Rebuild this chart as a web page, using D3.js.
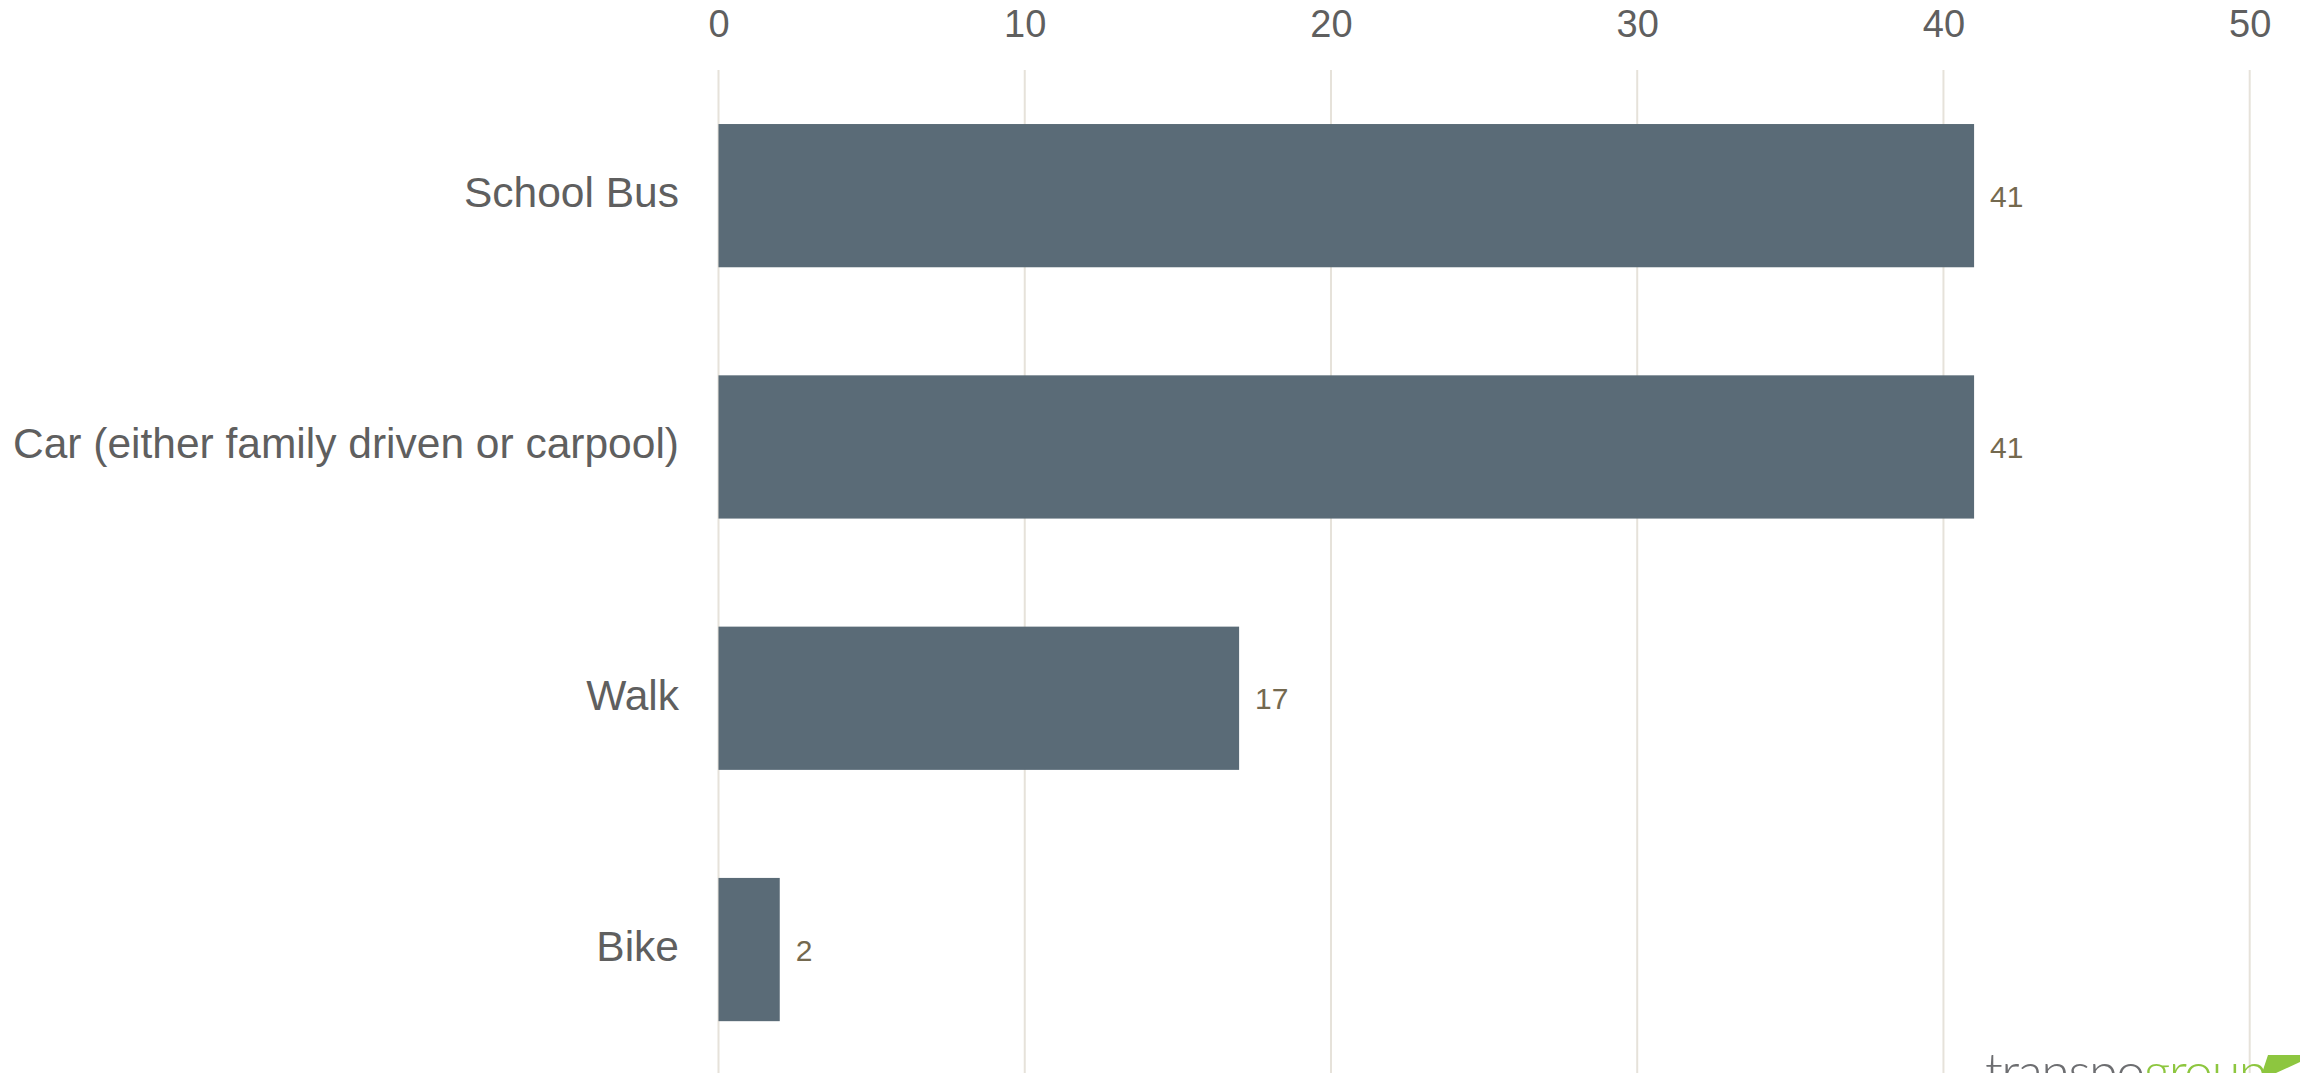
<!DOCTYPE html>
<html>
<head>
<meta charset="utf-8">
<script src="https://cdn.jsdelivr.net/npm/d3@7/dist/d3.min.js"></script>
<style>
  html, body { margin: 0; padding: 0; background: #ffffff; overflow: hidden; }
  svg { display: block; }
</style>
</head>
<body>
<svg id="chart" width="2300" height="1073"></svg>
<script>
const categories = ["School Bus", "Car (either family driven or carpool)", "Walk", "Bike"];
const values = [41, 41, 17, 2];
const tickValues = [0, 10, 20, 30, 40, 50];

const W = 2300, H = 1073;
const svg = d3.select("#chart");

const x = d3.scaleLinear().domain([0, 50]).range([718.5, 2249.7]);
const y = d3.scaleBand().domain(categories).range([70, 1075.2]).paddingInner(0.43).paddingOuter(0.215);

// gridlines
svg.append("g").selectAll("line").data(tickValues).join("line")
  .attr("x1", d => x(d)).attr("x2", d => x(d))
  .attr("y1", 70).attr("y2", H)
  .attr("stroke", "#e6e2da").attr("stroke-width", 2);

// top axis labels
const xAxis = d3.axisTop(x).tickValues(tickValues).tickSize(0).tickPadding(0).tickFormat(d3.format("d"));
const gx = svg.append("g").attr("transform", "translate(0,37)").call(xAxis);
gx.select(".domain").remove();
gx.selectAll("text")
  .attr("font-family", "'Liberation Sans', Arial, sans-serif")
  .attr("font-size", 38)
  .attr("fill", "#5f5f5f")
  .attr("dy", 0);

// category axis labels
const yAxis = d3.axisLeft(y).tickSize(0).tickPadding(0);
const gy = svg.append("g").attr("transform", "translate(679,0)").call(yAxis);
gy.select(".domain").remove();
gy.selectAll("text")
  .attr("font-family", "'Liberation Sans', Arial, sans-serif")
  .attr("font-size", 42.5)
  .attr("fill", "#5f5f5f")
  .attr("dy", "0.27em");

// bars
svg.append("g").selectAll("rect").data(values).join("rect")
  .attr("x", x(0))
  .attr("y", (d, i) => y(categories[i]))
  .attr("width", d => x(d) - x(0))
  .attr("height", y.bandwidth())
  .attr("fill", "#5a6b77");

// value labels
svg.append("g").selectAll("text").data(values).join("text")
  .attr("x", d => x(d) + 16)
  .attr("y", (d, i) => y(categories[i]) + y.bandwidth() / 2 + 11)
  .attr("font-family", "'Liberation Sans', Arial, sans-serif")
  .attr("font-size", 30)
  .attr("fill", "#74694f")
  .text(d => d);

// logo (partially cut off at bottom, as in the reference)
const logo = svg.append("text")
  .attr("x", 1985).attr("y", 1090)
  .attr("font-family", "Lato, sans-serif")
  .attr("font-weight", 300)
  .attr("font-size", 52)
  .attr("letter-spacing", "-1.5");
logo.append("tspan").attr("fill", "#6d6e71").text("transpo");
logo.append("tspan").attr("fill", "#8dc63f").text("group");
svg.append("path")
  .attr("d", "M2268,1055 L2300,1055 L2300,1073 L2262,1073 Z")
  .attr("fill", "#8dc63f");
svg.append("path")
  .attr("d", "M2276,1073 L2300,1062 L2300,1073 Z")
  .attr("fill", "#ffffff");
</script>
</body>
</html>
